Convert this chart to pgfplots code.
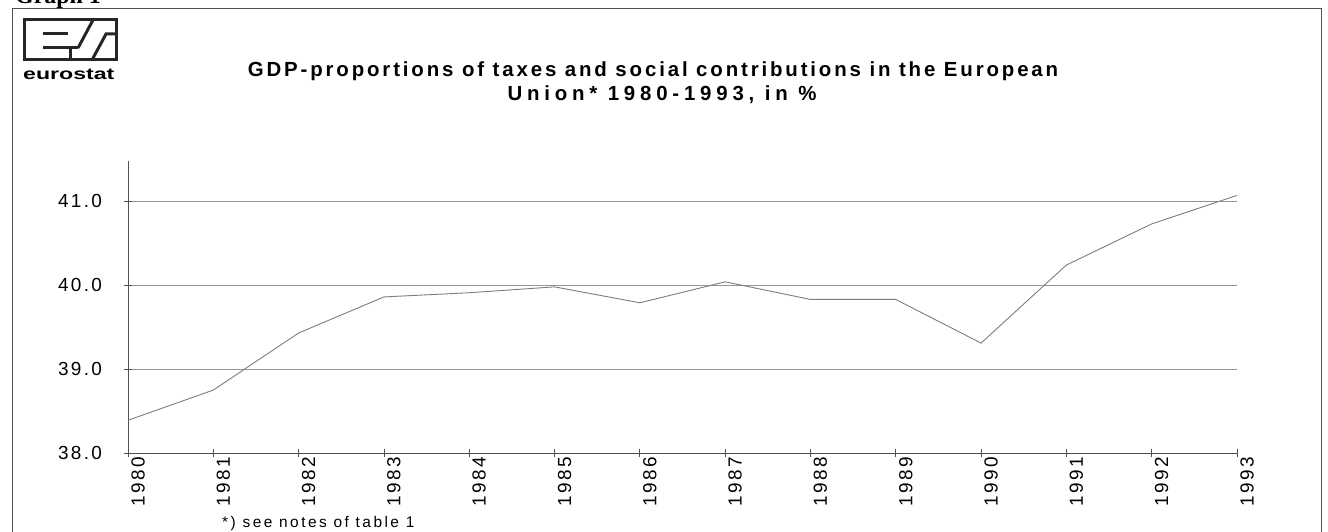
\documentclass[border=0pt]{standalone}
\usepackage{fontspec}
\setmainfont{Liberation Sans}
\newfontfamily\tickfont[LetterSpace=12]{Liberation Sans}
\newfontfamily\titlefontA[LetterSpace=14]{Liberation Sans}
\newfontfamily\titlefontB[LetterSpace=23.5]{Liberation Sans}
\newfontfamily\notefont[LetterSpace=16]{Liberation Sans}
\newfontfamily\serifb{Liberation Serif}
\usepackage{pgfplots}
\pgfplotsset{compat=1.18}
\definecolor{lineg}{RGB}{125,125,125}
\definecolor{gridg}{RGB}{150,150,150}
\definecolor{axisg}{RGB}{80,80,80}
\begin{document}
\begin{tikzpicture}
\path[use as bounding box] (0,0) rectangle (1328bp,532bp);
% frame
\draw[axisg, line width=0.8bp] (12bp,-5bp) -- (12bp,524bp) -- (1321bp,524bp) -- (1321bp,-5bp);
% Graph 1 (cut off at the top, as in the reference)
\node[anchor=base west, inner sep=0pt] at (15bp,528bp) {\fontsize{24}{26}\selectfont\serifb\bfseries Graph 1};
% logo
\begin{scope}[line width=3bp, black!85]
\draw (24bp,512bp) rectangle (116bp,472bp);
\draw (43bp,498bp) -- (68bp,498bp);
\draw (43bp,484bp) -- (78bp,484bp);
\draw (70bp,484bp) -- (70bp,472bp);
\draw (78bp,484bp) -- (93bp,512bp);
\draw (92bp,472bp) -- (106bp,498bp) -- (116bp,498bp);
\end{scope}
\node[anchor=base west, inner sep=0pt] at (23bp,452bp) {\scalebox{1.45}[1]{\fontsize{16}{18}\selectfont\bfseries eurostat}};
% title
\node[anchor=base, inner sep=0pt] at (653bp,455bp) {\fontsize{20.5}{22}\selectfont\titlefontA\bfseries GDP-proportions of taxes and social contributions in the European};
\node[anchor=base, inner sep=0pt] at (662bp,431bp) {\fontsize{20.5}{22}\selectfont\titlefontB\bfseries Union* 1980-1993, in \%};
\begin{axis}[
  at={(128bp,79bp)}, anchor=south west,
  scale only axis, width=1109bp, height=292bp,
  xmin=1980, xmax=1993, ymin=38, ymax=41.48,
  axis lines=left,
  axis line style={-, axisg, line width=0.8bp},
  xtick={1980,1981,...,1993}, ytick={38,39,40,41},
  ymajorgrids,
  grid style={gridg, line width=0.7bp},
  tick align=center, major tick length=8bp,
  tick style={axisg, line width=0.7bp},
  ticklabel style={font=\fontsize{19}{21}\selectfont\tickfont},
  /pgf/number format/assume math mode=true,
  xticklabel style={rotate=90, anchor=east, inner sep=0pt, yshift=-10bp, /pgf/number format/1000 sep={}},
  yticklabel style={anchor=east, inner sep=0pt, xshift=-22bp, /pgf/number format/fixed, /pgf/number format/fixed zerofill, /pgf/number format/precision=1},
  clip=false,
]
\addplot[lineg, line width=0.9bp, no marks] coordinates {
(1980,38.39) (1981,38.75) (1982,39.43) (1983,39.86) (1984,39.91) (1985,39.98)
(1986,39.79) (1987,40.04) (1988,39.83) (1989,39.83) (1990,39.31) (1991,40.24)
(1992,40.73) (1993,41.07)
};
\end{axis}
\node[anchor=base west, inner sep=0pt] at (222bp,5bp) {\fontsize{15.5}{17}\selectfont\notefont *) see notes of table 1};
\end{tikzpicture}
\end{document}
